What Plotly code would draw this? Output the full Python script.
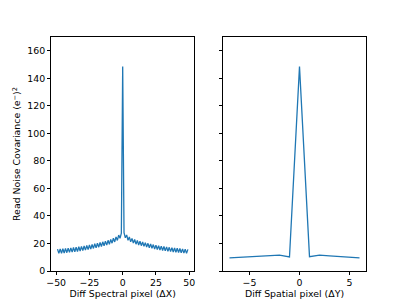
import plotly.graph_objects as go

# Left panel: spectral covariance vs pixel offset
dx = list(range(-49, 50))
cov_dx = [
    15.9, 12.8, 16.0, 12.9, 16.2, 13.1, 16.4, 13.3, 16.6, 13.5,
    16.8, 13.7, 17.1, 14.0, 17.3, 14.2, 17.6, 14.5, 17.9, 14.8,
    18.2, 15.2, 18.5, 15.5, 18.9, 15.9, 19.3, 16.4, 19.8, 16.8,
    20.2, 17.3, 20.7, 17.8, 21.2, 18.3, 21.7, 18.8, 22.3, 19.4,
    23.0, 20.2, 23.8, 21.1, 24.8, 22.2, 26.1, 23.7, 27.5,
    148.5,
    27.8, 24.1, 26.2, 22.3, 24.7, 21.2, 23.7, 20.3, 22.9, 19.5,
    22.2, 18.9, 21.6, 18.4, 21.1, 17.9, 20.6, 17.4, 20.1, 16.9,
    19.7, 16.5, 19.2, 16.0, 18.8, 15.6, 18.4, 15.3, 18.1, 14.9,
    17.8, 14.6, 17.5, 14.3, 17.2, 14.1, 17.0, 13.8, 16.7, 13.6,
    16.5, 13.4, 16.3, 13.2, 16.1, 13.0, 15.9, 12.8, 15.7,
]

# Right panel: spatial covariance vs pixel offset
dy = [-7, -6, -5, -4, -3, -2, -1, 0, 1, 2, 3, 4, 5, 6]
cov_dy = [9.5, 9.8, 10.3, 10.5, 10.9, 11.5, 10.2, 148.5, 10.4, 11.5, 11.0, 10.5, 10.3, 9.5]

y_ticks = [0, 20, 40, 60, 80, 100, 120, 140, 160]

BLUE = "#1f77b4"
FONT = "DejaVu Sans"
FS = 9.4

fig = go.Figure()
fig.add_trace(go.Scatter(x=dx, y=cov_dx, mode="lines", line=dict(color=BLUE, width=1.3),
                         xaxis="x", yaxis="y", showlegend=False))
fig.add_trace(go.Scatter(x=dy, y=cov_dy, mode="lines", line=dict(color=BLUE, width=1.3),
                         xaxis="x2", yaxis="y2", showlegend=False))

axis_common = dict(
    showline=True, linecolor="black", linewidth=0.7, mirror=True,
    ticks="outside", ticklen=3.1, tickwidth=0.7, tickcolor="black",
    showgrid=False, zeroline=False, automargin=False,
    tickfont=dict(family=FONT, size=FS, color="black"),
)

fig.update_layout(
    width=407, height=305,
    margin=dict(l=51, r=41, t=37, b=34, autoexpand=False),
    paper_bgcolor="white", plot_bgcolor="white",
    font=dict(family=FONT, size=FS, color="black"),
    xaxis=dict(domain=[0, 0.4552], range=[-53.9, 53.9],
               tickvals=[-50, -25, 0, 25, 50], ticktext=["\u221250", "\u221225", "0", "25", "50"],
               title=dict(text="Diff Spectral pixel (\u0394X)", font=dict(family=FONT, size=FS), standoff=2),
               anchor="y", **axis_common),
    yaxis=dict(domain=[0, 1], range=[0, 170], tickvals=y_ticks,
               title=dict(text="Read Noise Covariance (e<sup>\u2212</sup>)<sup>2</sup>",
                          font=dict(family=FONT, size=FS), standoff=4),
               anchor="x", **axis_common),
    xaxis2=dict(domain=[0.546, 1], range=[-7.65, 6.65],
                tickvals=[-5, 0, 5], ticktext=["\u22125", "0", "5"],
                title=dict(text="Diff Spatial pixel (\u0394Y)", font=dict(family=FONT, size=FS), standoff=2),
                anchor="y2", **axis_common),
    yaxis2=dict(domain=[0, 1], range=[0, 170], tickvals=y_ticks,
                showticklabels=False, matches="y", anchor="x2", **axis_common),
)

fig.write_html("out.html",
               config={"displayModeBar": False},
               post_script="document.body.style.margin='0px';document.body.style.overflow='hidden';")
